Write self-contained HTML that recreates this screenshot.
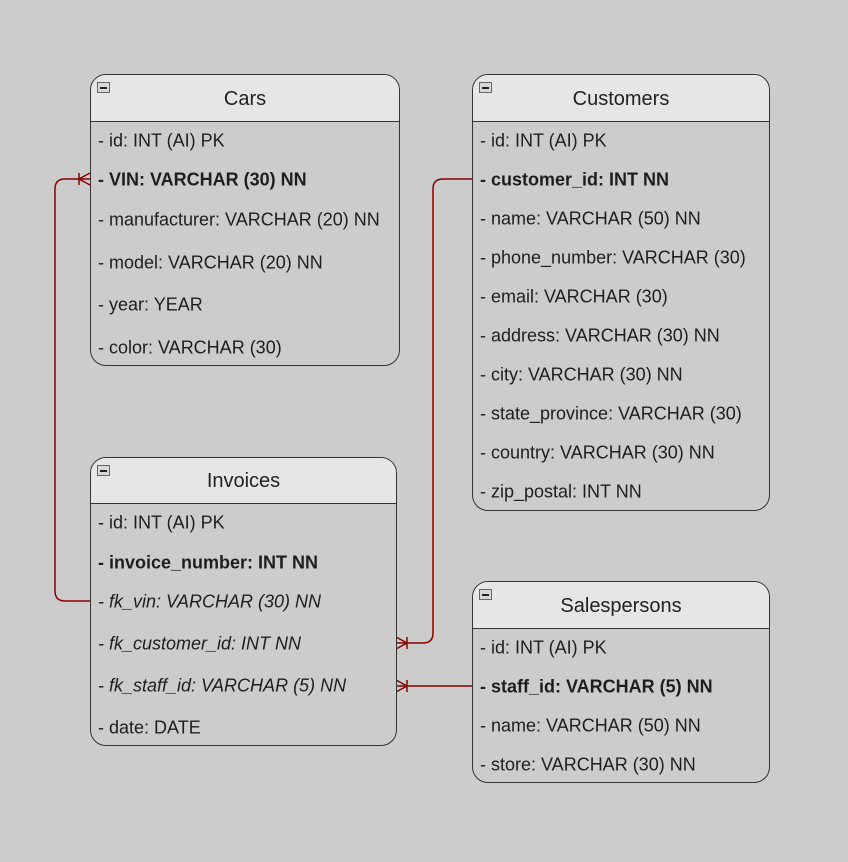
<!DOCTYPE html>
<html><head><style>
body{margin:0;width:848px;height:862px;background:#cccccc;position:relative;font-family:"Liberation Sans",sans-serif;overflow:hidden}
.t{position:absolute;border:1.5px solid #333;border-radius:16px;background:#cccccc;box-sizing:border-box;overflow:hidden}
.h{position:absolute;left:0;right:0;top:0;background:#e6e6e6;border-bottom:1.5px solid #333;text-align:center;font-size:20px;color:#222;box-sizing:border-box}
.m{position:absolute;left:6px;top:7px;width:13px;height:11px;border:1px solid #666;background:#d8d8d8;box-sizing:border-box}
.m:after{content:"";position:absolute;left:2px;right:2px;top:4px;height:1.5px;background:#222}
.r{position:absolute;left:7px;font-size:18px;color:#1e1e1e;white-space:nowrap;transform:translateY(-50%)}
.b{font-weight:bold}.i{font-style:italic}
svg{position:absolute;left:0;top:0}
</style></head><body>
<svg width="848" height="862">
<g fill="none" stroke="#8b0000" stroke-width="1.5">
<path d="M90,601 H65 Q55,601 55,591 V189 Q55,179 65,179 H90"/>
<path d="M90,173 L79,179 L90,185 M79,173 V185"/>
<path d="M472,179 H443 Q433,179 433,189 V633 Q433,643 423,643 H396"/>
<path d="M396,637 L407,643 L396,649 M407,637 V649"/>
<path d="M472,686 H396"/>
<path d="M396,680 L407,686 L396,692 M407,680 V692"/>
</g></svg>

<div class="t" style="left:90px;top:74px;width:310px;height:292px">
<div class="h" style="height:47px;line-height:48px">Cars</div><div class="m"></div>
<div class="r" style="top:66px">- id: INT (AI) PK</div>
<div class="r b" style="top:105px">- VIN: VARCHAR (30) NN</div>
<div class="r" style="top:145px">- manufacturer: VARCHAR (20) NN</div>
<div class="r" style="top:188px">- model: VARCHAR (20) NN</div>
<div class="r" style="top:230px">- year: YEAR</div>
<div class="r" style="top:273px">- color: VARCHAR (30)</div>
</div>

<div class="t" style="left:472px;top:74px;width:298px;height:437px">
<div class="h" style="height:47px;line-height:48px">Customers</div><div class="m"></div>
<div class="r" style="top:66px">- id: INT (AI) PK</div>
<div class="r b" style="top:105px">- customer_id: INT NN</div>
<div class="r" style="top:144px">- name: VARCHAR (50) NN</div>
<div class="r" style="top:183px">- phone_number: VARCHAR (30)</div>
<div class="r" style="top:222px">- email: VARCHAR (30)</div>
<div class="r" style="top:261px">- address: VARCHAR (30) NN</div>
<div class="r" style="top:300px">- city: VARCHAR (30) NN</div>
<div class="r" style="top:339px">- state_province: VARCHAR (30)</div>
<div class="r" style="top:378px">- country: VARCHAR (30) NN</div>
<div class="r" style="top:417px">- zip_postal: INT NN</div>
</div>

<div class="t" style="left:90px;top:457px;width:307px;height:289px">
<div class="h" style="height:46px;line-height:47px">Invoices</div><div class="m"></div>
<div class="r" style="top:65px">- id: INT (AI) PK</div>
<div class="r b" style="top:105px">- invoice_number: INT NN</div>
<div class="r i" style="top:144px">- fk_vin: VARCHAR (30) NN</div>
<div class="r i" style="top:186px">- fk_customer_id: INT NN</div>
<div class="r i" style="top:228px">- fk_staff_id: VARCHAR (5) NN</div>
<div class="r" style="top:270px">- date: DATE</div>
</div>

<div class="t" style="left:472px;top:581px;width:298px;height:202px">
<div class="h" style="height:47px;line-height:48px">Salespersons</div><div class="m"></div>
<div class="r" style="top:66px">- id: INT (AI) PK</div>
<div class="r b" style="top:105px">- staff_id: VARCHAR (5) NN</div>
<div class="r" style="top:144px">- name: VARCHAR (50) NN</div>
<div class="r" style="top:183px">- store: VARCHAR (30) NN</div>
</div>
</body></html>
